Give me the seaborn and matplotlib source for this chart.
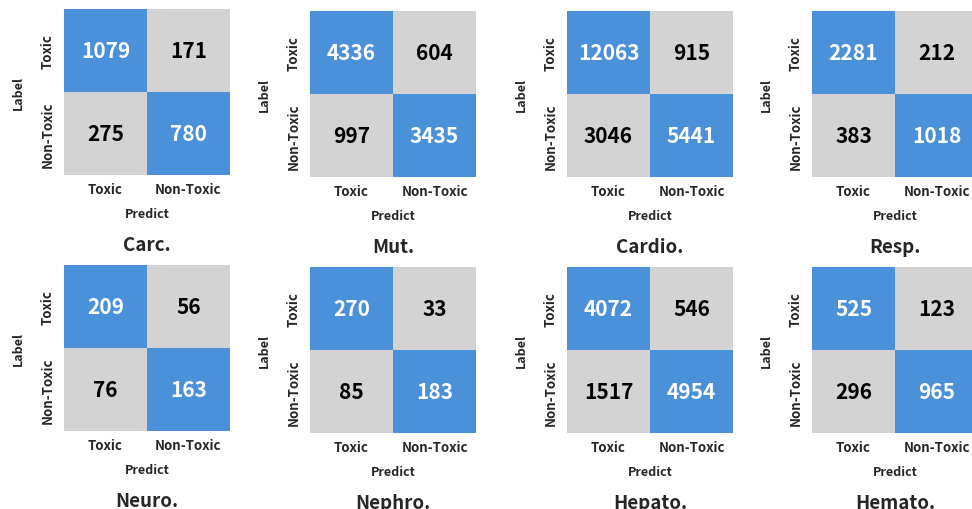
import numpy as np
import matplotlib
matplotlib.use('Agg')
import matplotlib.pyplot as plt
import seaborn as sns
from matplotlib.colors import ListedColormap

tasks = ['Carc.', 'Mut.', 'Cardio.', 'Resp.', 'Neuro.', 'Nephro.', 'Hepato.', 'Hemato.']
tox_tox = [1079, 4336, 12063, 2281, 209, 270, 4072, 525]
tox_non = [171, 604, 915, 212, 56, 33, 546, 123]
non_tox = [275, 997, 3046, 383, 76, 85, 1517, 296]
non_non = [780, 3435, 5441, 1018, 163, 183, 4954, 965]
class_labels = ['Toxic', 'Non-Toxic']

sns.set_style('white')
plt.rcParams['font.family'] = ['Noto Sans CJK SC', 'DejaVu Sans']

W, H = 972, 510
fig = plt.figure(figsize=(W / 100, H / 100), dpi=100)

# panel boxes in pixels: left, top
lefts = [64, 310, 567, 812]
tops = [10, 266]
size = 166
cmap = ListedColormap(['#d3d3d3', '#4a91d9'])

for i, name in enumerate(tasks):
    r, c = divmod(i, 4)
    x0 = lefts[c]
    y0 = tops[r] + (0 if c == 0 else 2)
    ax = fig.add_axes([x0 / W, 1 - (y0 + size) / H, size / W, size / H])
    counts = np.array([[tox_tox[i], tox_non[i]], [non_tox[i], non_non[i]]])
    colour = np.array([[1, 0], [0, 1]])
    sns.heatmap(colour, ax=ax, cmap=cmap, cbar=False, annot=counts, fmt='d',
                annot_kws={'fontsize': 15, 'fontweight': 'bold'},
                xticklabels=class_labels, yticklabels=class_labels)
    for t, v in zip(ax.texts, colour.flatten()):
        t.set_color('white' if v == 1 else 'black')
    ax.tick_params(axis='x', length=0, labelsize=9.5, pad=5)
    ax.tick_params(axis='y', length=0, labelsize=9.5, pad=7)
    for lab in ax.get_xticklabels() + ax.get_yticklabels():
        lab.set_fontweight('bold')
    ax.set_yticklabels(class_labels, rotation=90, va='center')
    ax.set_xlabel('Predict', fontsize=9, fontweight='bold', labelpad=8)
    ax.set_ylabel('Label', fontsize=9, fontweight='bold', labelpad=11)
    ax.set_title(name, y=-0.5, fontsize=13.5, fontweight='bold')

fig.savefig('out.png', dpi=100)
